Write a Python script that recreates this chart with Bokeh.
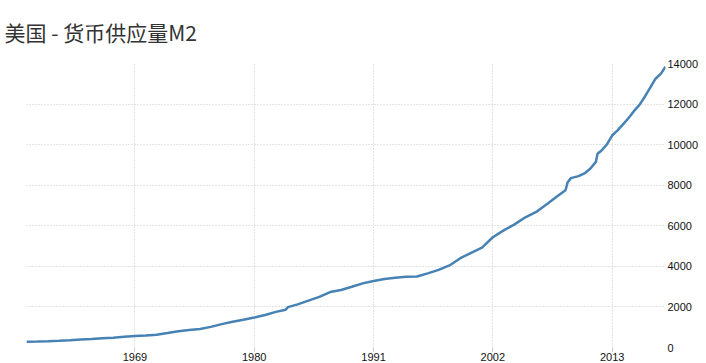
from bokeh.plotting import figure
from bokeh.models import Range1d, FixedTicker
from bokeh.embed import file_html
from bokeh.resources import INLINE

title_text = "美国 - 货币供应量M2"

years = [1959.0, 1960.0, 1961.0, 1962.0, 1963.0, 1964.0, 1965.0, 1966.0, 1967.0, 1968.0,
         1969.0, 1970.0, 1971.0, 1972.0, 1973.0, 1974.0, 1975.0, 1976.0, 1977.0, 1978.0,
         1979.0, 1980.0, 1981.0, 1982.0, 1982.9, 1983.1, 1984.0, 1985.0, 1986.0, 1987.0,
         1988.0, 1989.0, 1990.0, 1991.0, 1992.0, 1993.0, 1994.0, 1995.0, 1996.0, 1997.0,
         1998.0, 1999.0, 2000.0, 2001.0, 2002.0, 2003.0, 2004.0, 2005.0, 2006.0, 2007.0,
         2008.0, 2008.7, 2008.9, 2009.2, 2009.9, 2010.5, 2011.0, 2011.5, 2011.65, 2012.0,
         2012.5, 2013.0, 2013.5, 2014.0, 2014.5, 2015.0, 2015.5, 2016.0, 2016.5, 2017.0,
         2017.5, 2017.92]
m2 = [287, 298, 312, 335, 362, 393, 424, 459, 480, 525,
      567, 588, 628, 712, 805, 862, 908, 1017, 1153, 1271,
      1366, 1474, 1600, 1757, 1860, 1990, 2124, 2310, 2497, 2734,
      2832, 2996, 3161, 3279, 3380, 3434, 3486, 3503, 3656, 3826,
      4046, 4403, 4667, 4926, 5435, 5776, 6071, 6420, 6680, 7074,
      7480, 7750, 8150, 8350, 8450, 8600, 8820, 9150, 9550, 9700,
      10000, 10450, 10700, 11000, 11300, 11650, 11950, 12350, 12800, 13250,
      13500, 13840]

x_ticks = [1969, 1980, 1991, 2002, 2013]
y_ticks = [0, 2000, 4000, 6000, 8000, 10000, 12000, 14000]

p = figure(width=706, height=363, output_backend="svg", toolbar_location=None,
           y_axis_location="right",
           x_range=Range1d(1959.0, 2017.92), y_range=Range1d(0, 14000),
           title=title_text,
           min_border_left=26, min_border_right=41, min_border_bottom=16, min_border_top=63)

p.title.text_font = "Noto Sans CJK SC"
p.title.text_font_size = "21px"
p.title.text_font_style = "normal"
p.title.text_color = "#333333"
p.title.vertical_align = "top"
p.title.standoff = 30
p.title.offset = -22

p.outline_line_color = None
p.background_fill_color = "white"
p.border_fill_color = "white"

for ax in (p.xaxis[0], p.yaxis[0]):
    ax.axis_line_color = None
    ax.minor_tick_line_color = None
    ax.major_label_text_font = "Liberation Sans"
    ax.major_label_text_font_size = "11px"
    ax.major_label_text_color = "#111111"

p.xaxis.ticker = FixedTicker(ticks=x_ticks)
p.yaxis.ticker = FixedTicker(ticks=y_ticks)
p.xaxis.major_tick_in = 0
p.xaxis.major_tick_out = 4
p.xaxis.major_tick_line_color = "#cccccc"
p.xaxis.major_label_standoff = 1
p.yaxis.major_tick_line_color = None
p.yaxis.major_tick_in = 0
p.yaxis.major_tick_out = 0
p.yaxis.major_label_standoff = 2

p.xgrid.ticker = FixedTicker(ticks=x_ticks)
p.ygrid.ticker = FixedTicker(ticks=y_ticks)
for g in (p.xgrid[0], p.ygrid[0]):
    g.grid_line_color = "#c8c8c8"
    g.grid_line_dash = "1 2"
    g.grid_line_width = 1

p.line(years, m2, line_color="#4682b4", line_width=2.5)

open("out.html", "w").write(file_html(p, INLINE))
